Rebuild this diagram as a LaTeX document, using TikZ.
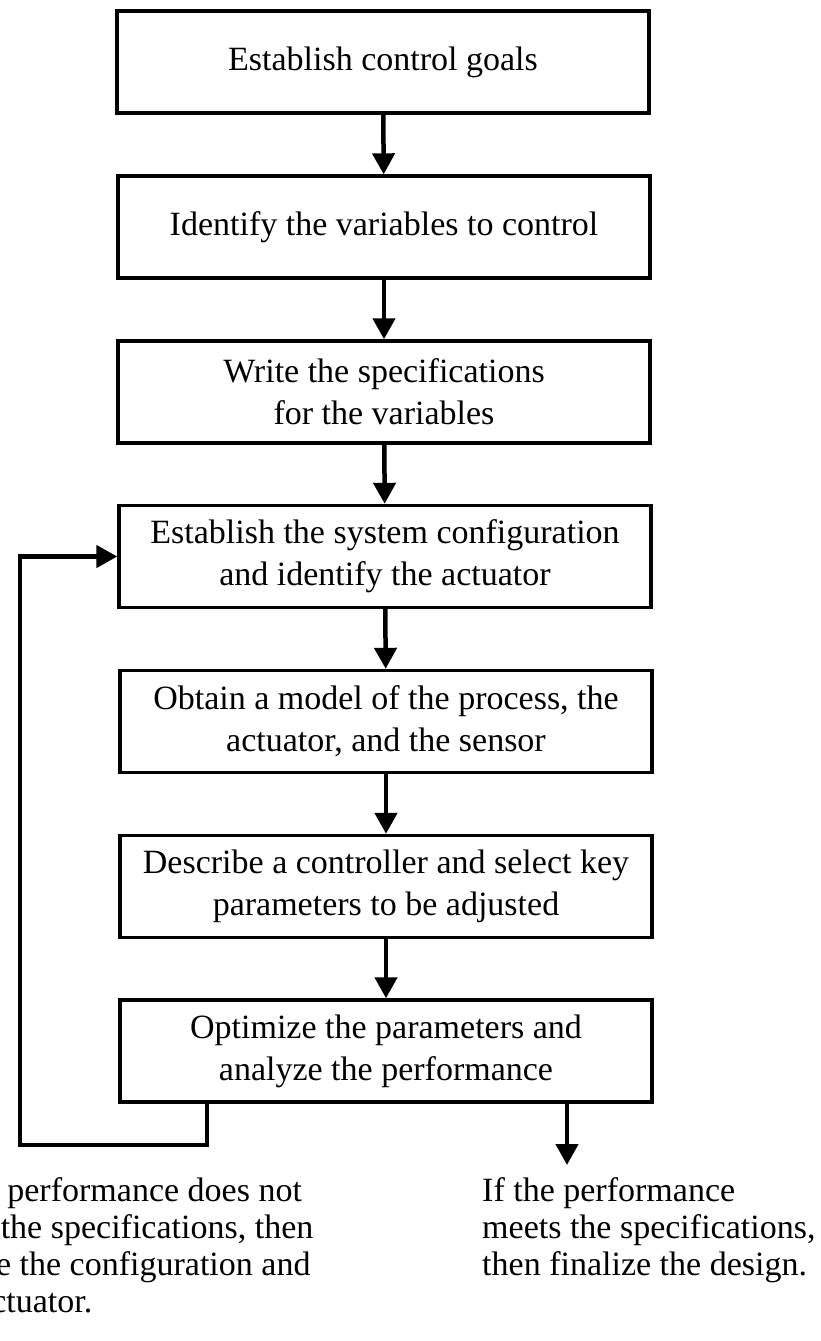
\documentclass[tikz,border=0pt]{standalone}
\usepackage{fontspec}
\setmainfont{Liberation Serif}
\usetikzlibrary{arrows.meta}
\begin{document}
\begin{tikzpicture}[x=1pt,y=-1pt,
  stepbox/.style={draw, line width=3.4pt, minimum width=532pt, minimum height=102pt,
    align=center, inner sep=0pt, font=\fontsize{34}{42}\selectfont},
  flow/.style={line width=4.5pt, -{Triangle[length=21pt,width=22pt]}},
  note/.style={anchor=north west, align=left, inner sep=0pt,
    font=\fontsize{34}{37}\selectfont}]
\useasboundingbox (0,0) rectangle (820,1341);
\clip (0,0) rectangle (820,1341);

% design steps
\node[stepbox] (B1) at (383,62)    {Establish control goals};
\node[stepbox] (B2) at (384,227)   {Identify the variables to control};
\node[stepbox] (B3) at (384,392)   {Write the specifications\\for the variables};
\node[stepbox] (B4) at (385,556.5) {Establish the system configuration\\and identify the actuator};
\node[stepbox] (B5) at (386,721.5) {Obtain a model of the process, the\\actuator, and the sensor};
\node[stepbox] (B6) at (386,886.5) {Describe a controller and select key\\parameters to be adjusted};
\node[stepbox] (B7) at (386,1051)  {Optimize the parameters and\\analyze the performance};

% forward flow
\draw[flow] (B1) -- (B2);
\draw[flow] (B2) -- (B3);
\draw[flow] (B3) -- (B4);
\draw[flow] (B4) -- (B5);
\draw[flow] (B5) -- (B6);
\draw[flow] (B6) -- (B7);

% iteration loop back to the configuration step
\coordinate (fbbot) at (207,1145);
\coordinate (fbleft) at (20,1145);
\draw[flow] (B7.south -| fbbot) -- (fbbot) -- (fbleft) |- (B4.west);

% exit when the specifications are met
\coordinate (finish) at (567,1165);
\draw[flow] (B7.south -| finish) -- (finish);

% outcome notes
\node[note] (iterate) at (-74,1177) {If the performance does not\\meet the specifications, then\\iterate the configuration and\\the actuator.};
\node[note] (final) at (482,1177) {If the performance\\meets the specifications,\\then finalize the design.};
\end{tikzpicture}
\end{document}
